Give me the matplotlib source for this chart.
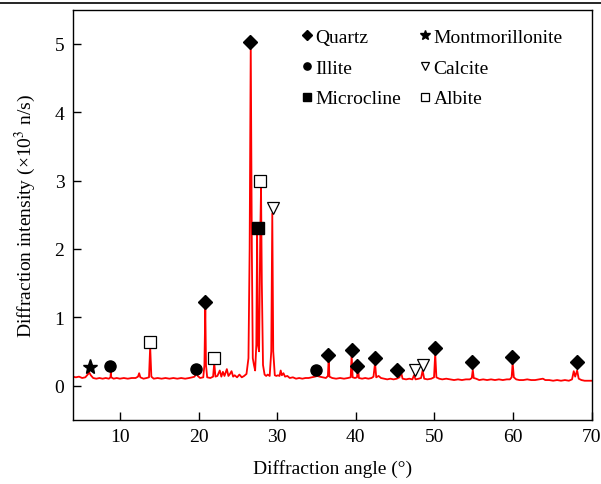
import matplotlib
matplotlib.use("Agg")
import matplotlib.pyplot as plt
from matplotlib.lines import Line2D

# ---- data ----
angle = [4.0, 4.4, 4.8, 5.2, 5.6, 5.9, 6.1, 6.3, 6.6, 7.0, 7.4, 7.8, 8.2, 8.6, 8.8, 8.85, 8.9,
         9.2, 9.6, 10.0, 10.5, 11.0, 11.5, 12.0, 12.3, 12.45, 12.6, 13.0, 13.4, 13.7, 13.85, 14.0,
         14.3, 14.8, 15.3, 15.8, 16.3, 16.8, 17.3, 17.8, 18.3, 18.8, 19.2, 19.5, 19.75, 19.9, 20.2,
         20.6, 20.75, 20.86, 20.95, 21.1, 21.5, 21.85, 22.0, 22.15, 22.4, 22.7, 22.9, 23.1, 23.3,
         23.6, 23.8, 24.0, 24.2, 24.4, 24.6, 24.9, 25.2, 25.5, 25.8, 26.1, 26.35, 26.5, 26.64,
         26.78, 26.9, 27.05, 27.2, 27.35, 27.45, 27.55, 27.7, 27.85, 27.95, 28.05, 28.2, 28.4,
         28.6, 28.8, 29.05, 29.25, 29.38, 29.5, 29.7, 29.9, 30.1, 30.3, 30.45, 30.6, 30.8, 31.0,
         31.3, 31.6, 32.0, 32.4, 32.8, 33.2, 33.6, 34.0, 34.4, 34.8, 35.1, 35.4, 35.8, 36.2,
         36.45, 36.55, 36.65, 37.0, 37.5, 38.0, 38.5, 39.0, 39.35, 39.47, 39.6, 39.9, 40.15,
         40.28, 40.4, 40.8, 41.2, 41.6, 42.0, 42.25, 42.45, 42.6, 42.9, 43.2, 43.6, 44.0, 44.4,
         44.8, 45.2, 45.55, 45.75, 45.95, 46.4, 46.8, 47.2, 47.4, 47.6, 48.0, 48.3, 48.5, 48.7,
         49.1, 49.6, 49.95, 50.1, 50.25, 50.6, 51.0, 51.5, 52.0, 52.5, 53.0, 53.5, 54.0, 54.5,
         54.75, 54.88, 55.0, 55.3, 55.7, 56.2, 56.7, 57.2, 57.7, 58.2, 58.7, 59.2, 59.6, 59.82,
         59.95, 60.1, 60.4, 60.8, 61.3, 61.8, 62.3, 62.8, 63.3, 63.8, 64.1, 64.6, 65.1, 65.6,
         66.1, 66.6, 67.1, 67.5, 67.72, 67.9, 68.15, 68.35, 68.7, 69.1, 69.5, 70.0]
intensity = [0.13, 0.12, 0.13, 0.11, 0.12, 0.16, 0.19, 0.15, 0.11, 0.10, 0.11, 0.10, 0.11, 0.10,
             0.12, 0.20, 0.12, 0.10, 0.11, 0.10, 0.11, 0.10, 0.11, 0.11, 0.13, 0.18, 0.12, 0.10,
             0.11, 0.12, 0.57, 0.13, 0.10, 0.11, 0.10, 0.11, 0.10, 0.11, 0.10, 0.11, 0.10, 0.11,
             0.12, 0.13, 0.20, 0.14, 0.11, 0.12, 0.30, 1.15, 0.30, 0.12, 0.11, 0.13, 0.33, 0.13,
             0.14, 0.22, 0.13, 0.20, 0.14, 0.24, 0.14, 0.17, 0.21, 0.13, 0.15, 0.12, 0.16, 0.12,
             0.14, 0.17, 0.40, 2.00, 5.00, 2.00, 0.40, 0.30, 0.22, 0.60, 2.23, 0.60, 0.50, 2.20,
             2.89, 1.50, 0.30, 0.16, 0.14, 0.16, 0.14, 0.50, 2.52, 0.50, 0.15, 0.14, 0.15, 0.14,
             0.22, 0.15, 0.18, 0.13, 0.14, 0.11, 0.12, 0.10, 0.11, 0.10, 0.11, 0.11, 0.12, 0.13,
             0.14, 0.13, 0.12, 0.11, 0.14, 0.38, 0.13, 0.11, 0.10, 0.11, 0.10, 0.11, 0.12, 0.45,
             0.12, 0.11, 0.12, 0.26, 0.11, 0.10, 0.11, 0.10, 0.11, 0.13, 0.33, 0.12, 0.14, 0.11,
             0.10, 0.09, 0.10, 0.09, 0.10, 0.12, 0.20, 0.10, 0.09, 0.10, 0.09, 0.15, 0.09, 0.10,
             0.11, 0.22, 0.10, 0.09, 0.10, 0.12, 0.47, 0.12, 0.10, 0.09, 0.10, 0.09, 0.08, 0.09,
             0.08, 0.09, 0.09, 0.11, 0.23, 0.11, 0.10, 0.08, 0.09, 0.08, 0.09, 0.08, 0.09, 0.08,
             0.09, 0.09, 0.12, 0.33, 0.12, 0.09, 0.08, 0.08, 0.09, 0.08, 0.08, 0.09, 0.10, 0.08,
             0.08, 0.07, 0.08, 0.07, 0.08, 0.07, 0.09, 0.21, 0.13, 0.22, 0.10, 0.08, 0.07, 0.07,
             0.07]

quartz_x = [20.85, 26.6, 36.5, 39.5, 40.2, 42.4, 45.3, 50.1, 54.8, 59.9, 68.1]
quartz_y = [1.22, 5.02, 0.45, 0.52, 0.29, 0.41, 0.23, 0.55, 0.35, 0.42, 0.35]
montm_x = [6.2]
montm_y = [0.27]
illite_x = [8.8, 19.7, 35.0]
illite_y = [0.29, 0.24, 0.23]
calcite_x = [29.5, 47.5, 48.5]
calcite_y = [2.60, 0.23, 0.30]
microcline_x = [27.55]
microcline_y = [2.31]
albite_x = [13.85, 22.0, 27.8]
albite_y = [0.64, 0.41, 3.00]

xticks = [10, 20, 30, 40, 50, 60, 70]
yticks = [0, 1, 2, 3, 4, 5]

# ---- style ----
plt.rcParams['font.family'] = ['Liberation Serif', 'DejaVu Sans']
plt.rcParams['mathtext.fontset'] = 'stix'
plt.rcParams['font.size'] = 14

fig = plt.figure(figsize=(6.01, 4.85), dpi=100)
ax = fig.add_axes([0.121, 0.1326, 0.8635, 0.8454])

ax.plot(angle, intensity, color='#ff0000', lw=1.3, zorder=2)

mk = dict(linestyle='none', markeredgecolor='black', zorder=3)
ax.plot(quartz_x, quartz_y, marker='D', markersize=7.5, color='black', label='Quartz', **mk)
ax.plot(illite_x, illite_y, marker='o', markersize=8, color='black', label='Illite', **mk)
ax.plot(microcline_x, microcline_y, marker='s', markersize=8, color='black', label='Microcline', **mk)
ax.plot(montm_x, montm_y, marker='*', markersize=11, color='black', label='Montmorillonite', **mk)
ax.plot(calcite_x, calcite_y, marker='v', markersize=9, markerfacecolor='white',
        markeredgewidth=0.9, color='black', label='Calcite', **mk)
ax.plot(albite_x, albite_y, marker='s', markersize=8, markerfacecolor='white',
        markeredgewidth=0.9, color='black', label='Albite', **mk)

ax.legend(ncol=2, loc='upper left', bbox_to_anchor=(0.44, 0.955), frameon=False,
          markerscale=0.65, handlelength=0.6, handletextpad=0.15, columnspacing=0.9,
          labelspacing=0.68, borderpad=0, borderaxespad=0, fontsize=14)

ax.set_xlim(4, 70)
ax.set_ylim(-0.5, 5.5)
ax.set_xticks(xticks)
ax.set_yticks(yticks)
ax.tick_params(direction='in', length=6, width=1, top=False, right=False, pad=6, labelsize=14)
for s in ax.spines.values():
    s.set_linewidth(1.0)

ax.set_xlabel('Diffraction angle (°)', fontsize=14, labelpad=10)
ax.set_ylabel('Diffraction intensity (×10$^{3}$ n/s)', fontsize=14, labelpad=12)

fig.add_artist(Line2D([0, 1], [0.9924, 0.9924], transform=fig.transFigure, color='black', lw=1.2))

fig.savefig('out.png', dpi=100)
